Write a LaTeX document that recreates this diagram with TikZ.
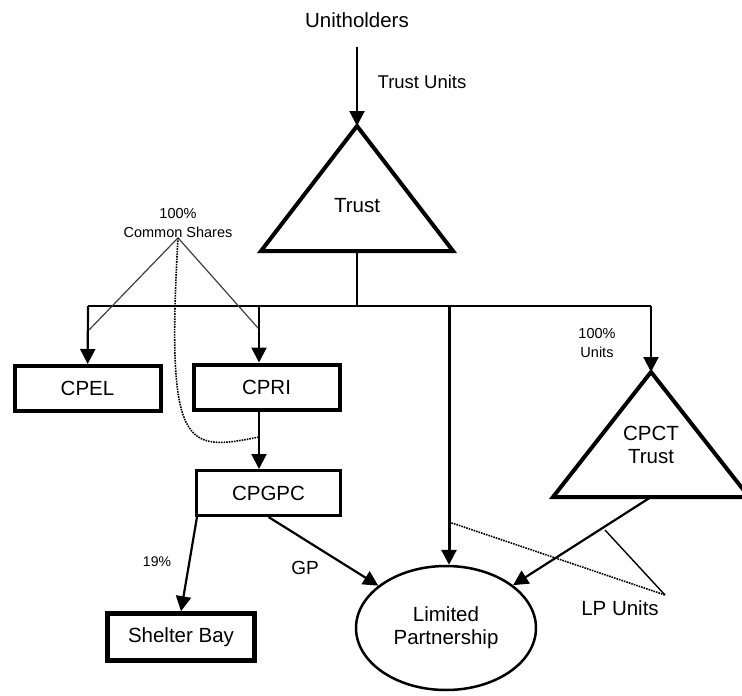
\documentclass[tikz,border=0pt]{standalone}
\usepackage{fontspec}
\setmainfont{Liberation Sans}
\usetikzlibrary{arrows.meta,shapes.geometric}

\begin{document}
\begin{tikzpicture}
  [x=1pt,y=-1pt,
   every node/.style={font=\fontsize{20.5}{23}\selectfont,align=center,inner sep=0pt},
   box/.style={draw,line width=4pt,minimum width=146pt,minimum height=45pt},
   link/.style={line width=2.2pt,-{Triangle[length=15pt,width=15pt]}},
   tree/.style={line width=1.4pt},
   share/.style={line width=1.2pt,black!75},
   lpdots/.style={line width=1.6pt,densely dotted},
   tiny/.style={font=\fontsize{14.5}{19}\selectfont}]
  \useasboundingbox (0,0) rectangle (742,696);
  \node (uh) at (357,20) {Unitholders};
  \node[font=\fontsize{18.5}{21}\selectfont] (tu) at (422,82) {Trust Units};
  \coordinate (trtop) at (357,126);
  \coordinate (trbase) at (357,251);
  \draw[line width=4pt] (trtop) -- (453,251) -- (261,251) -- cycle;
  \node (trust) at (357,206) {Trust};
  \coordinate (bus) at (357,306);
  \coordinate (cpelb) at (88,306);
  \coordinate (cprib) at (259,306);
  \coordinate (lpb) at (449,306);
  \coordinate (cpctb) at (651,306);
  \node[box] (cpel) at (87.5,388.5) {CPEL};
  \node[box] (cpri) at (266.5,387) {CPRI};
  \node[box,line width=3pt,minimum width=144pt] (cpgpc) at (268.5,493) {CPGPC};
  \node[box,line width=4.5pt,minimum width=147pt,minimum height=47pt] (shelter) at (181,637) {Shelter Bay};
  \node[draw,ellipse,line width=2.5pt,minimum width=180pt,minimum height=124pt] (lp) at (446,628) {Limited\\Partnership};
  \coordinate (cptop) at (651,372);
  \coordinate (cpbase) at (651,497);
  \draw[line width=4pt] (cptop) -- (749,497) -- (553,497) -- cycle;
  \node (cpct) at (651,445) {CPCT\\Trust};
  \node[tiny] (cs) at (178,223) {100\%\\Common Shares};
  \node[tiny] (un) at (597,343) {100\%\\Units};
  \node[font=\fontsize{14}{16}\selectfont] (pct) at (157,562) {19\%};
  \node[font=\fontsize{19}{21}\selectfont] (gp) at (305,568) {GP};
  \node (lpu) at (620,608) {LP Units};
  \coordinate (csl) at (89,330);
  \coordinate (csr) at (258,328);
  \coordinate (csc) at (259,437);
  \coordinate (lpa) at (449,522);
  \coordinate (lpc) at (605,530);
  \coordinate (lpv) at (665,595);

  \draw[link,shorten <=19pt] (uh) -- (trtop);
  \draw[tree] (trbase) -- (bus);
  \draw[tree] (cpelb) -- (cpctb);
  \draw[link] (cpelb) -- (cpel);
  \draw[link] (cprib) -- (cprib |- cpri.north);
  \draw[link] (cprib |- cpri.south) -- (cprib |- cpgpc.north);
  \draw[link,line width=3pt] (lpb) -- (lpb |- lp.north);
  \draw[link] (cpctb) -- (cptop);
  \draw[link] ([xshift=2pt]cpgpc.south west) -- (shelter.north);
  \draw[link] (cpgpc.south) -- (lp);
  \draw[link] (cpbase) -- (lp);
  \foreach \to in {csl,csr}
    \draw[share] (cs.south) -- (\to);
  \draw[lpdots] (cs.south) .. controls (166,450) and (185,452) .. (csc);
  \draw[lpdots] (lpa) -- (lpv);
  \draw[tree] (lpc) -- (lpv);
\end{tikzpicture}
\end{document}
